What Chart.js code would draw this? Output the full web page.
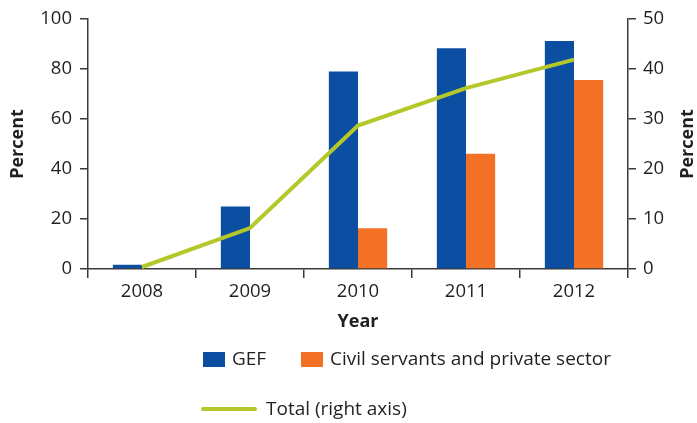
<!DOCTYPE html>
<html>
<head>
<meta charset="utf-8">
<script src="https://cdn.jsdelivr.net/npm/chart.js@4/dist/chart.umd.min.js"></script>
<style>
  html, body { margin: 0; padding: 0; background: #fff; }
  #wrap { position: relative; width: 697px; height: 423px; }
</style>
</head>
<body>
<div id="wrap"><canvas id="chart" width="697" height="423"></canvas></div>
<script>
// Categories and series values
const years = ['2008', '2009', '2010', '2011', '2012'];
const gef = [1.7, 25, 79, 88.3, 91.2];
const civilServants = [null, null, 16.3, 46.1, 75.6];
const totalRight = [0.4, 8.2, 28.7, 36.2, 41.9];

const leftTicks = [0, 20, 40, 60, 80, 100];
const rightTicks = [0, 10, 20, 30, 40, 50];

const seriesNames = ['GEF', 'Civil servants and private sector', 'Total (right axis)'];

const BLUE = '#0c4ea2';
const ORANGE = '#f37124';
const GREEN = '#b5c82a';
const INK = '#231f20';
const AXIS = '#3a3a3a';
const FONT = "'Open Sans', 'Noto Sans', sans-serif";
const TICK_SIZE = 18.5;
const TITLE_SIZE = 18;
const LEGEND_SIZE = 19;

// Right-hand title reads bottom-to-top, like the left one
const rightTitlePlugin = {
  id: 'rightTitle',
  afterDraw(chart) {
    const { ctx, chartArea } = chart;
    ctx.save();
    ctx.fillStyle = INK;
    ctx.font = `bold ${TITLE_SIZE}px ${FONT}`;
    ctx.textAlign = 'center';
    ctx.textBaseline = 'middle';
    ctx.translate(688, (chartArea.top + chartArea.bottom) / 2);
    ctx.rotate(-Math.PI / 2);
    ctx.fillText('Percent', 0, 0);
    ctx.restore();
  }
};

// Two-row legend below the axis
const legendPlugin = {
  id: 'customLegend',
  afterDraw(chart) {
    const { ctx } = chart;
    const ds = chart.data.datasets;
    ctx.save();
    ctx.font = `${LEGEND_SIZE}px ${FONT}`;
    ctx.textBaseline = 'middle';
    ctx.textAlign = 'left';
    // row 1: bar swatches
    ctx.fillStyle = ds[0].backgroundColor;
    ctx.fillRect(203, 352, 22, 15);
    ctx.fillStyle = INK;
    ctx.fillText(ds[0].label, 232, 360);
    ctx.fillStyle = ds[1].backgroundColor;
    ctx.fillRect(301, 352, 22, 15);
    ctx.fillStyle = INK;
    ctx.fillText(ds[1].label, 330, 360);
    // row 2: line swatch
    ctx.strokeStyle = ds[2].borderColor;
    ctx.lineWidth = 4;
    ctx.lineCap = 'round';
    ctx.beginPath();
    ctx.moveTo(203, 409);
    ctx.lineTo(255, 409);
    ctx.stroke();
    ctx.fillText(ds[2].label, 266, 409.5);
    ctx.restore();
  }
};

new Chart(document.getElementById('chart'), {
  data: {
    labels: years,
    datasets: [
      {
        type: 'bar',
        label: seriesNames[0],
        data: gef,
        backgroundColor: BLUE,
        yAxisID: 'y',
        order: 1,
        categoryPercentage: 0.54,
        barPercentage: 1.0
      },
      {
        type: 'bar',
        label: seriesNames[1],
        data: civilServants,
        backgroundColor: ORANGE,
        yAxisID: 'y',
        order: 1,
        categoryPercentage: 0.54,
        barPercentage: 1.0
      },
      {
        type: 'line',
        label: seriesNames[2],
        data: totalRight,
        borderColor: GREEN,
        borderWidth: 4,
        pointRadius: 0,
        tension: 0,
        fill: false,
        yAxisID: 'y2',
        order: 0
      }
    ]
  },
  options: {
    responsive: false,
    animation: false,
    devicePixelRatio: 1,
    layout: { padding: { top: 18, left: 0, right: 0, bottom: 84 } },
    plugins: {
      legend: { display: false },
      tooltip: { enabled: false }
    },
    scales: {
      x: {
        type: 'category',
        offset: true,
        grid: {
          offset: true,
          drawOnChartArea: false,
          drawTicks: true,
          tickLength: 9,
          color: AXIS,
          lineWidth: 1.5
        },
        border: { color: AXIS, width: 1.5 },
        ticks: { color: INK, font: { family: FONT, size: TICK_SIZE }, padding: 3 },
        title: {
          display: true,
          text: 'Year',
          color: INK,
          font: { family: FONT, size: TITLE_SIZE, weight: 'bold' },
          padding: { top: 0, bottom: 6 }
        },
        afterFit(scale) { scale.height = 70; }
      },
      y: {
        position: 'left',
        min: 0,
        max: 100,
        afterBuildTicks(scale) { scale.ticks = leftTicks.map(v => ({ value: v })); },
        grid: {
          drawOnChartArea: false,
          drawTicks: true,
          tickLength: 8,
          color: AXIS,
          lineWidth: 1.5
        },
        border: { color: AXIS, width: 1.5 },
        ticks: { color: INK, font: { family: FONT, size: TICK_SIZE }, padding: 8 },
        title: {
          display: true,
          text: 'Percent',
          color: INK,
          font: { family: FONT, size: TITLE_SIZE, weight: 'bold' },
          padding: { top: 7, bottom: 0 }
        },
        afterFit(scale) { scale.width = 88; }
      },
      y2: {
        position: 'right',
        min: 0,
        max: 50,
        afterBuildTicks(scale) { scale.ticks = rightTicks.map(v => ({ value: v })); },
        grid: {
          drawOnChartArea: false,
          drawTicks: true,
          tickLength: 8,
          color: AXIS,
          lineWidth: 1.5
        },
        border: { color: AXIS, width: 1.5 },
        ticks: { color: INK, font: { family: FONT, size: TICK_SIZE }, padding: 7 },
        afterFit(scale) { scale.width = 69; }
      }
    }
  },
  plugins: [rightTitlePlugin, legendPlugin]
});
</script>
</body>
</html>
